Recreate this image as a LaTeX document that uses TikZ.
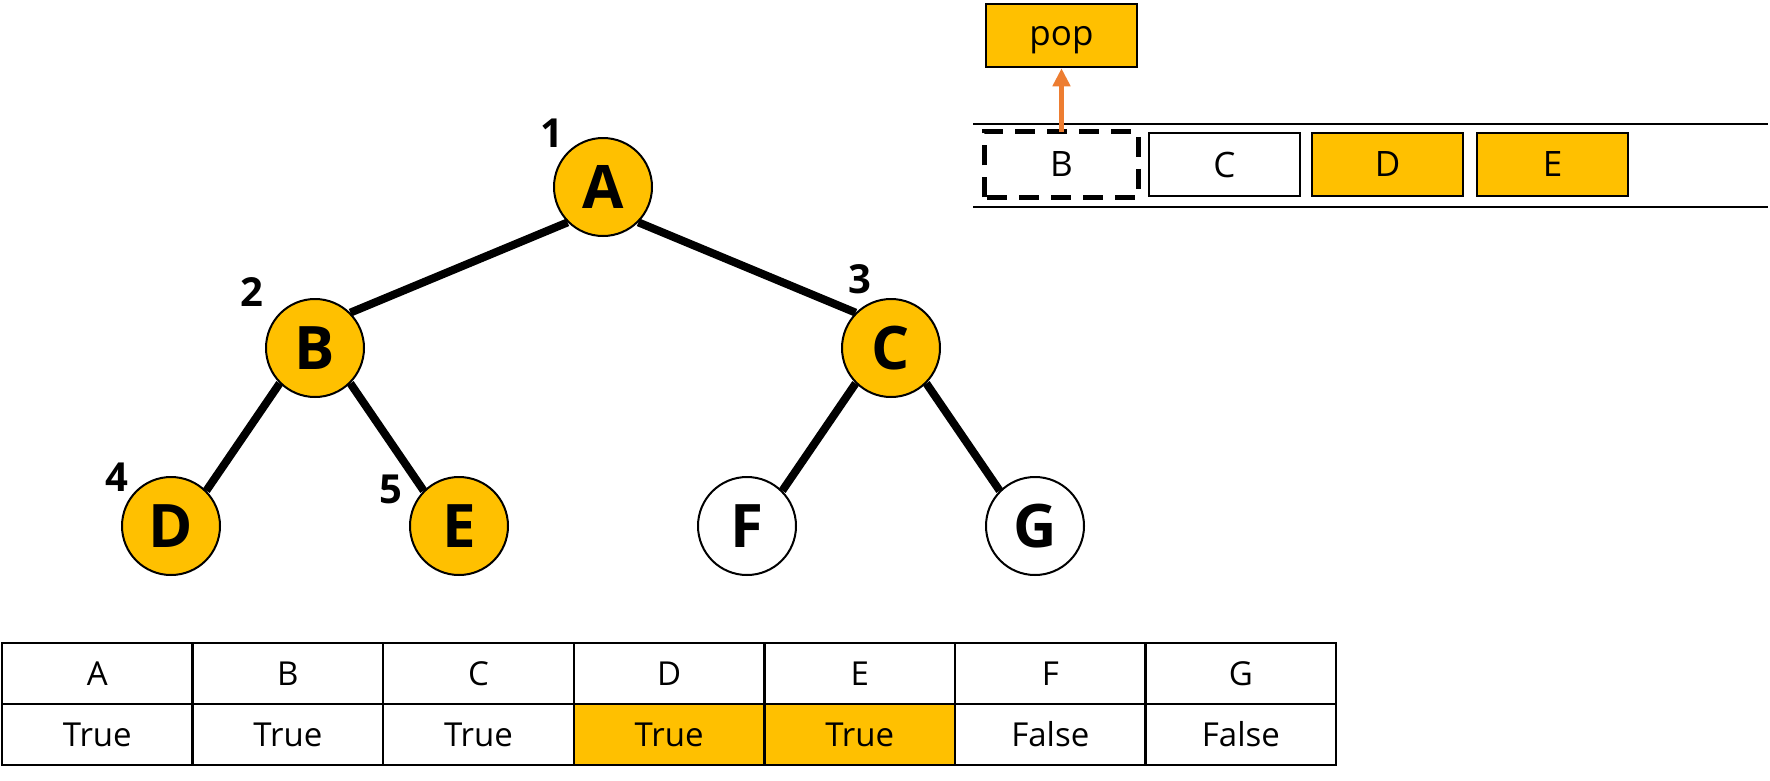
\documentclass[tikz,border=0pt]{standalone}
\usepackage{fontspec}
\setmainfont{Open Sans}
\usetikzlibrary{arrows.meta}
\definecolor{gold}{HTML}{FFC000}
\definecolor{arr}{HTML}{ED7D31}
\begin{document}
\begin{tikzpicture}[x=1pt,y=-1pt,
 vert/.style={circle,draw,line width=2pt,minimum size=98pt,inner sep=0pt,font=\fontsize{60}{60}\selectfont\bfseries},
 num/.style={font=\fontsize{40}{40}\selectfont\bfseries,inner sep=0pt},
 edgeline/.style={line width=8pt},
 cell/.style={draw,line width=2.5pt,minimum width=190.6pt,minimum height=61pt,inner sep=0pt,font=\fontsize{33}{33}\selectfont},
 sbox/.style={draw,line width=2.5pt,minimum width=151pt,minimum height=63pt,inner sep=0pt,font=\fontsize{35}{35}\selectfont}]
\useasboundingbox (0,0) rectangle (1770,780);
% tree
\node[vert,fill=gold] (A) at (603,187) {A};
\node[vert,fill=gold] (B) at (315,348) {B};
\node[vert,fill=gold] (C) at (891,348) {C};
\node[vert,fill=gold] (D) at (171,526) {D};
\node[vert,fill=gold] (E) at (459,526) {E};
\node[vert,fill=white] (F) at (747,526) {F};
\node[vert,fill=white] (G) at (1035,526) {G};
\draw[edgeline] (A.south west) -- (B.north east);
\draw[edgeline] (A.south east) -- (C.north west);
\draw[edgeline] (B.south west) -- (D.north east);
\draw[edgeline] (B.south east) -- (E.north west);
\draw[edgeline] (C.south west) -- (F.north east);
\draw[edgeline] (C.south east) -- (G.north west);
\node[num] (n1) at (552,133) {1};
\node[num] (n2) at (252,292) {2};
\node[num] (n3) at (860,279) {3};
\node[num] (n4) at (117,477) {4};
\node[num] (n5) at (391,489) {5};
% stack
\coordinate (l1a) at (973,124); \coordinate (l1b) at (1768,124);
\coordinate (l2a) at (973,207); \coordinate (l2b) at (1768,207);
\draw[line width=2.5pt] (l1a) -- (l1b);
\draw[line width=2.5pt] (l2a) -- (l2b);
\node[sbox,draw=none] (sB) at (1061.5,164.5) {B};
\draw[line width=5pt,dash pattern=on 20pt off 12pt] (sB.south west) rectangle (sB.north east);
\node[sbox] (sC) at (1224.5,164.5) {C};
\node[sbox,fill=gold] (sD) at (1387.5,164.5) {D};
\node[sbox,fill=gold] (sE) at (1552.5,164.5) {E};
\node[sbox,fill=gold,text depth=0pt] (pop) at (1061.5,35.5) {pop};
\draw[arr,line width=5pt,-{Triangle[length=18pt,width=17pt]}] (sB.north) -- (pop.south);
% table
\foreach \l [count=\i from 0] in {A,B,C,D,E,F,G}{
  \node[cell] (h\l) at ({2+190.6*(\i+0.5)},673.5) {\l};
}
\node[cell] (vA) at ({2+190.6*0.5},734.5) {True};
\node[cell] (vB) at ({2+190.6*1.5},734.5) {True};
\node[cell] (vC) at ({2+190.6*2.5},734.5) {True};
\node[cell,fill=gold] (vD) at ({2+190.6*3.5},734.5) {True};
\node[cell,fill=gold] (vE) at ({2+190.6*4.5},734.5) {True};
\node[cell] (vF) at ({2+190.6*5.5},734.5) {False};
\node[cell] (vG) at ({2+190.6*6.5},734.5) {False};
\end{tikzpicture}
\end{document}
